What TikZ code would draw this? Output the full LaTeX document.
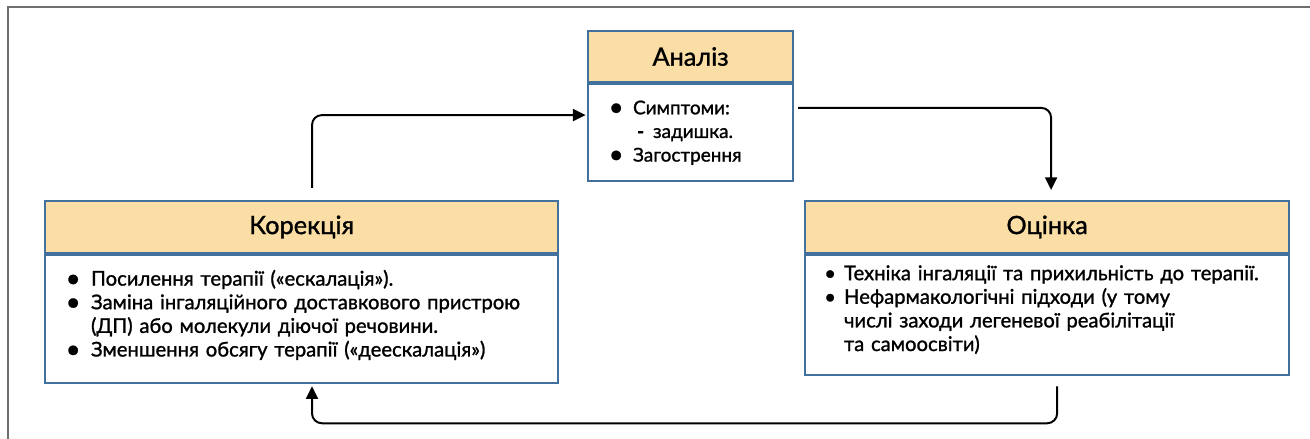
\documentclass[tikz,border=0pt]{standalone}
\usepackage{fontspec}
\setmainfont{Lato}[FakeBold=1.2]
\usetikzlibrary{positioning,arrows.meta}
\definecolor{ramka}{RGB}{65,113,156}
\definecolor{shapka}{RGB}{250,222,165}
\definecolor{obvid}{RGB}{110,110,110}
\newcommand{\blt}[1]{\makebox[#1][l]{\hspace*{-0.08cm}\raisebox{-1pt}{\fontsize{18}{18}\selectfont\textbullet}}}
\newcommand{\mblt}[1]{\makebox[#1][l]{\hspace*{-0.12cm}\textbullet}}
\tikzset{
  shapkabox/.style={draw=ramka, line width=1.5pt, fill=shapka, anchor=north west, font=\fontsize{18}{21}\selectfont},
  tilobox/.style={draw=ramka, line width=1.5pt, fill=white, align=left, inner xsep=0.6cm, inner ysep=0pt, font=\fontsize{14.4}{16.8}\selectfont}
  ,strilka/.style={line width=1.4pt, rounded corners=7pt, -{Triangle[length=9pt,width=8.5pt]}}
}
\begin{document}
\begin{tikzpicture}[x=0.025cm, y=-0.025cm]
  \useasboundingbox (0,0) rectangle (1310,439);
  % Рамка
  \draw[obvid, line width=1pt] (8,439) -- (8,7) -- (1310,7);

  % Аналіз
  \node[shapkabox, minimum width=5.125cm, minimum height=1.275cm] (analizhead) at (587,30) {Аналіз};
  \node[tilobox, below=0pt of analizhead, text width=3.925cm, minimum height=2.425cm,
        font=\fontsize{13.5}{16.8}\selectfont] (analizbody)
    {\blt{0.525cm}Симптоми:\\
     \hspace*{0.625cm}\makebox[0.4cm][l]{\textbf{-}}задишка.\\
     \blt{0.525cm}Загострення};

  % Корекція
  \node[shapkabox, minimum width=12.825cm, minimum height=1.3cm] (korhead) at (44,200) {Корекція};
  \node[tilobox, below=0pt of korhead, text width=11.625cm, minimum height=3.2cm] (korbody)
    {\blt{0.55cm}Посилення терапії («ескалація»).\\
     \blt{0.55cm}Заміна інгаляційного доставкового пристрою\\
     \hspace*{0.55cm}(ДП) або молекули діючої речовини.\\
     \blt{0.55cm}Зменшення обсягу терапії («деескалація»)\rule[-0.3cm]{0pt}{0pt}};

  % Оцінка
  \node[shapkabox, minimum width=12.1cm, minimum height=1.3cm] (ozhead) at (804,200) {Оцінка};
  \node[tilobox, below=0pt of ozhead, text width=10.9cm, minimum height=3cm] (ozbody)
    {\mblt{0.375cm}Техніка інгаляції та прихильність до терапії.\\
     \mblt{0.375cm}Нефармакологічні підходи (у тому\\
     \hspace*{0.375cm}числі заходи легеневої реабілітації\\
     \hspace*{0.375cm}та самоосвіти)\rule[-0.35cm]{0pt}{0pt}};

  % Стрілки циклу
  \draw[strilka] ([xshift=0.26cm, yshift=0.3cm]korhead.north) |- ([xshift=-1pt, yshift=0.44cm]analizbody.west);
  \draw[strilka] ([xshift=0.1cm, yshift=0.62cm]analizbody.east) -| ([xshift=0.1cm, yshift=0.25cm]ozhead.north);
  \draw[strilka] ([xshift=0.25cm, yshift=-0.25cm]ozbody.south) -- ++(0,37) -| ([xshift=0.26cm, yshift=-0.05cm]korbody.south);
\end{tikzpicture}
\end{document}
